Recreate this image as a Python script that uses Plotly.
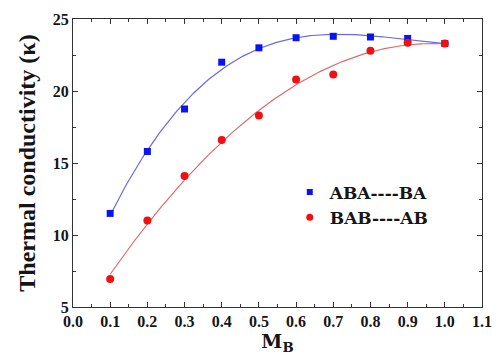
import numpy as np
import plotly.graph_objects as go

mb = [0.1, 0.2, 0.3, 0.4, 0.5, 0.6, 0.7, 0.8, 0.9, 1.0]
aba_ba = [11.5, 15.8, 18.75, 22.0, 23.0, 23.7, 23.8, 23.75, 23.65, 23.3]
bab_ab = [6.95, 11.0, 14.1, 16.6, 18.3, 20.8, 21.15, 22.8, 23.35, 23.3]
x_ticks = [0.0, 0.1, 0.2, 0.3, 0.4, 0.5, 0.6, 0.7, 0.8, 0.9, 1.0, 1.1]
y_ticks = [5, 10, 15, 20, 25]

# polynomial fit curves computed from the data
xf = np.linspace(min(mb), max(mb), 200)
fit_blue = np.polyval(np.polyfit(mb, aba_ba, 3), xf)
fit_red = np.polyval(np.polyfit(mb, bab_ab, 2), xf)

BLUE = "#0a14f0"
RED = "#f01010"
TXT = "#151515"
serif = "Liberation Serif"

fig = go.Figure()
fig.add_trace(go.Scatter(x=xf, y=fit_blue, mode="lines", line=dict(color="#6a6ae0", width=1.2),
                         showlegend=False, hoverinfo="skip"))
fig.add_trace(go.Scatter(x=xf, y=fit_red, mode="lines", line=dict(color="#e06a6a", width=1.2),
                         showlegend=False, hoverinfo="skip"))
fig.add_trace(go.Scatter(x=mb, y=aba_ba, mode="markers",
                         marker=dict(symbol="square", size=7, color=BLUE),
                         showlegend=False))
fig.add_trace(go.Scatter(x=mb, y=bab_ab, mode="markers",
                         marker=dict(symbol="circle", size=8, color=RED),
                         showlegend=False))
# legend entries
fig.add_trace(go.Scatter(x=[None], y=[None], mode="markers", name="<b>ABA----BA</b>",
                         marker=dict(symbol="square", size=6, color=BLUE)))
fig.add_trace(go.Scatter(x=[None], y=[None], mode="markers", name="<b>BAB----AB</b>",
                         marker=dict(symbol="circle", size=7, color=RED)))

axis_common = dict(
    showgrid=False, zeroline=False, showline=True, linecolor="#333333", linewidth=1.2,
    mirror="allticks", ticks="inside", ticklen=5, tickcolor="#333333", tickwidth=1,
    tickfont=dict(family=serif, size=16, color=TXT),
)

fig.update_xaxes(
    range=[0.0, 1.1], tickvals=x_ticks, ticktext=[f"<b>{v:.1f}</b>" for v in x_ticks],
    minor=dict(ticks="inside", dtick=0.05, ticklen=3, tickcolor="#333333"),
    title=dict(text="<b>M<sub>B</sub></b>", font=dict(family="DejaVu Serif", size=19, color=TXT),
               standoff=2),
    **axis_common,
)
fig.update_yaxes(
    range=[5, 25], tickvals=y_ticks, ticktext=[f"<b>{v}</b>" for v in y_ticks],
    minor=dict(ticks="inside", dtick=2.5, ticklen=3, tickcolor="#333333"),
    title=dict(text="<b>Thermal conductivity (κ)</b>", font=dict(family=serif, size=24, color=TXT),
               standoff=10),
    **axis_common,
)

fig.update_layout(
    width=503, height=360,
    margin=dict(l=73, r=11, t=17, b=53),
    plot_bgcolor="white", paper_bgcolor="white",
    legend=dict(x=0.53, y=0.46, xanchor="left", yanchor="top", bgcolor="rgba(0,0,0,0)",
                font=dict(family="DejaVu Serif", size=17, color=TXT),
                tracegroupgap=0, itemsizing="trace"),
)

fig.write_html(
    "out.html",
    config={"displayModeBar": False},
    post_script="document.body.style.margin='0';document.body.style.overflow='hidden';",
)
